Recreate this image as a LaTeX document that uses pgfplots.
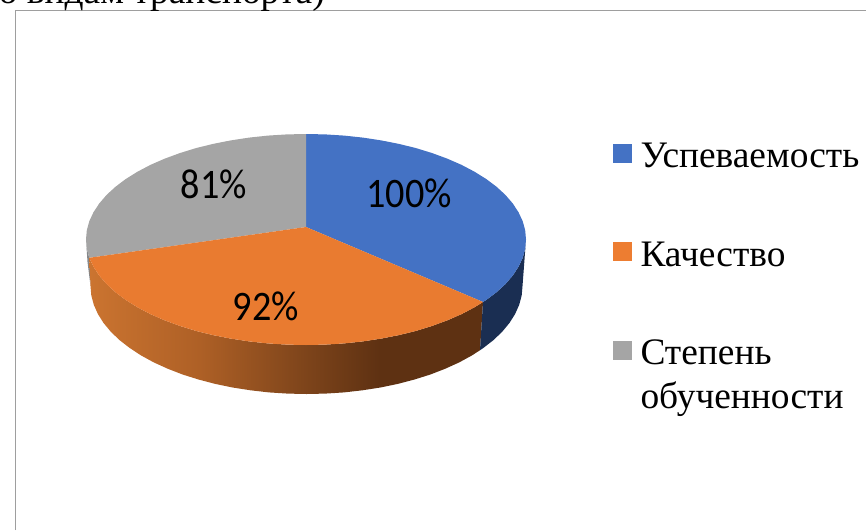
\documentclass[border=0pt]{standalone}
\usepackage{pgfplots}
\usepackage{graphicx}
\usepackage{fontspec}
\pgfplotsset{compat=1.18}
\setmainfont{Liberation Serif}
\newfontfamily\lab{Carlito}
\definecolor{cblue}{HTML}{4472C4}
\definecolor{corange}{HTML}{E97B30}
\definecolor{cgray}{HTML}{A5A5A5}
\definecolor{lorange}{HTML}{ED7D31}
\definecolor{sblue}{HTML}{1A2E52}
\definecolor{sgray}{HTML}{85878A}
\definecolor{oa}{HTML}{CB7430}
\definecolor{ob}{HTML}{AE6026}
\definecolor{oc}{HTML}{7F451B}
\definecolor{od}{HTML}{5E3112}
\pgfdeclarehorizontalshading{orangeside}{100bp}{color(0bp)=(oa); color(25bp)=(oa); color(39bp)=(ob); color(52bp)=(oc); color(62bp)=(od); color(100bp)=(od)}
\newcommand{\lbl}[1]{\scalebox{0.91}[1]{\lab\fontsize{42}{44}\selectfont #1}}
\begin{document}
\begin{tikzpicture}
\useasboundingbox (0,0) rectangle (866pt,530pt);
\begin{axis}[
  at={(0,0)}, anchor=south west,
  scale only axis, width=866pt, height=530pt,
  xmin=0, xmax=866, ymin=0, ymax=530, y dir=reverse,
  hide axis, clip=true,
  legend image code/.code={\path[draw=none,#1] (0pt,-10pt) rectangle (19pt,9pt); \path[draw=none,fill=none] (0pt,0pt) -- (27.5pt,0pt);},
  legend style={at={(axis cs:613,137)}, anchor=north west, draw=none, fill=none,
    inner sep=0pt, outer sep=0pt, row sep=66pt,
    font=\fontsize{37.4}{44}\selectfont,
    cells={anchor=base west}, nodes={inner sep=0pt, outer sep=0pt}},
  legend cell align=left,
]
% frame
\addplot[forget plot, no markers, color=black!38, line width=1pt] coordinates {(15.5,530)(15.5,10)(866,10)};
% gray side sliver
\addplot[forget plot, no markers, draw=none, fill=sgray] coordinates {(86,239.5)(86.8,248.7)(89.3,257.8)(90.5,286)(87.5,262)} --cycle;
% orange side
\addplot[forget plot, no markers, draw=none, shading=orangeside] coordinates {
(89.3,257.8)(93.5,266.8)(99.3,275.6)(106.6,284.1)(115.5,292.25)(125.8,300)(137.5,307.3)(150.4,314.1)(164.6,320.3)(179.8,325.9)(196,330.9)(213,335.1)(230.8,338.6)(249.1,341.4)(267.8,343.4)(286.8,344.6)(306,345)(325.2,344.6)(344.2,343.4)(362.9,341.4)(381.2,338.6)(399,335.1)(416,330.9)(432.2,325.9)(447.4,320.3)(461.6,314.1)(474.5,307.3)(483,302)
(480,350.2)(472,355.4)(459.2,362.4)(445.3,368.7)(430.4,374.5)(414.5,379.5)(397.8,383.9)(380.4,387.5)(362.4,390.3)(344,392.4)(325.3,393.6)(306.5,394)(287.7,393.6)(269,392.4)(250.6,390.3)(232.6,387.5)(215.2,383.9)(198.5,379.5)(182.6,374.5)(167.7,368.7)(153.8,362.4)(141,355.4)(129.6,347.9)(119.4,340)(110.7,331.6)(103.5,322.9)(97.9,314)(93.8,304.8)(91.3,295.4)(90.5,286)} --cycle;
% blue side
\addplot[forget plot, no markers, draw=none, fill=sblue] coordinates {
(483,302)(486.2,300)(496.5,292.25)(505.4,284.1)(512.7,275.6)(518.5,266.8)(522.7,257.8)(525.2,248.7)(526,239.5)
(522.5,286)(521.7,295.4)(519.2,304.8)(515.1,314)(509.5,322.9)(502.3,331.6)(493.6,340)(483.4,347.9)(480,350.2)} --cycle;
% top: blue
\addplot[forget plot, no markers, draw=none, fill=cblue] coordinates {
(306,227)(306,134)(325.2,134.4)(344.2,135.6)(362.9,137.6)(381.2,140.4)(399,143.9)(416,148.1)(432.2,153.1)(447.4,158.7)(461.6,164.9)(474.5,171.7)(486.2,179)(496.5,186.75)(505.4,194.9)(512.7,203.4)(518.5,212.2)(522.7,221.2)(525.2,230.3)(526,239.5)(525.2,248.7)(522.7,257.8)(518.5,266.8)(512.7,275.6)(505.4,284.1)(496.5,292.25)(486.2,300)(483,302)} --cycle;
% top: gray
\addplot[forget plot, no markers, draw=none, fill=cgray] coordinates {
(306,227)(306,134)(286.8,134.4)(267.8,135.6)(249.1,137.6)(230.8,140.4)(213,143.9)(196,148.1)(179.8,153.1)(164.6,158.7)(150.4,164.9)(137.5,171.7)(125.8,179)(115.5,186.75)(106.6,194.9)(99.3,203.4)(93.5,212.2)(89.3,221.2)(86.8,230.3)(86,239.5)(86.8,248.7)(89.3,257.8)} --cycle;
% top: orange
\addplot[forget plot, no markers, draw=none, fill=corange] coordinates {
(306,227)(89.3,257.8)(93.5,266.8)(99.3,275.6)(106.6,284.1)(115.5,292.25)(125.8,300)(137.5,307.3)(150.4,314.1)(164.6,320.3)(179.8,325.9)(196,330.9)(213,335.1)(230.8,338.6)(249.1,341.4)(267.8,343.4)(286.8,344.6)(306,345)(325.2,344.6)(344.2,343.4)(362.9,341.4)(381.2,338.6)(399,335.1)(416,330.9)(432.2,325.9)(447.4,320.3)(461.6,314.1)(474.5,307.3)(483,302)} --cycle;
% legend
\addlegendimage{fill=cblue}
\addlegendentry{\strut Успеваемость}
\addlegendimage{fill=lorange}
\addlegendentry{\strut Качество}
\addlegendimage{fill=cgray}
\addlegendentry{\begin{tabular}[t]{@{}l@{}}Степень\\обученности\end{tabular}}
% labels
\node[anchor=base, inner sep=0pt] at (axis cs:409,207) {\lbl{100\%}};
\node[anchor=base, inner sep=0pt] at (axis cs:266,320) {\lbl{92\%}};
\node[anchor=base, inner sep=0pt] at (axis cs:214,198) {\lbl{81\%}};
\node[anchor=base east, inner sep=0pt, font=\fontsize{37.4}{44}\selectfont] at (axis cs:325,4) {по видам транспорта)};
\end{axis}
\end{tikzpicture}
\end{document}
